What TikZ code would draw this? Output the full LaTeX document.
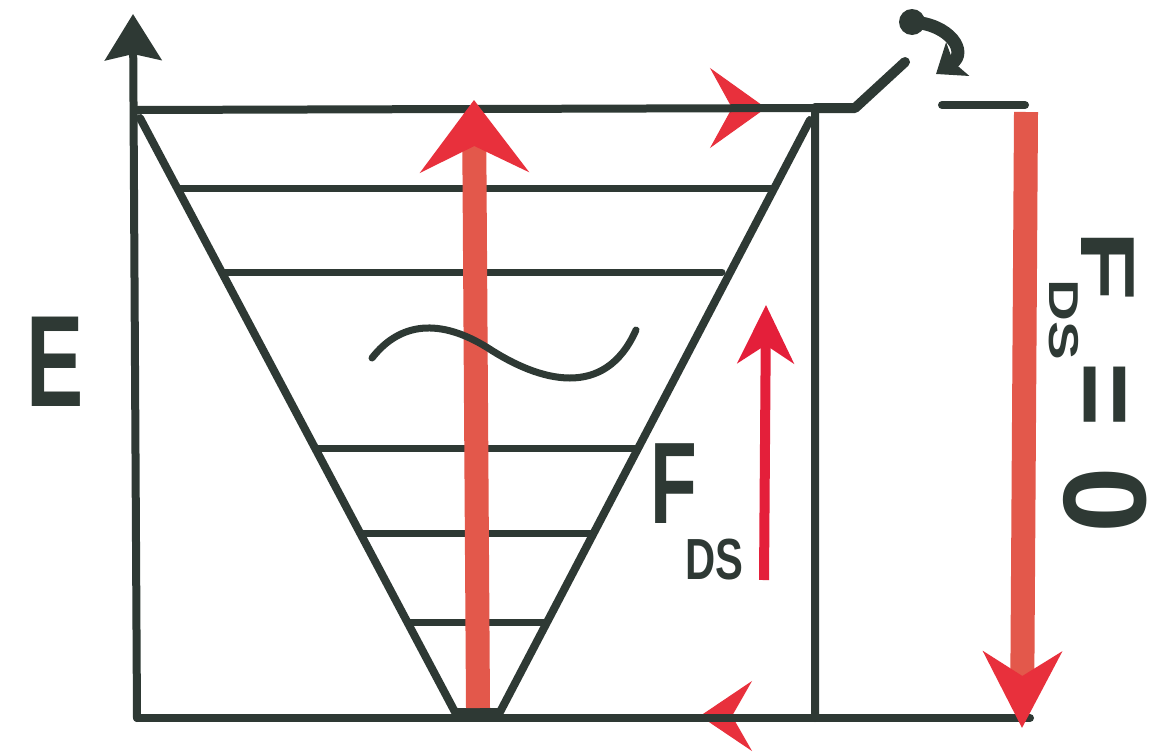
\documentclass[tikz,border=0pt]{standalone}
\usepackage{fontspec}
\setmainfont{Liberation Sans}
\usetikzlibrary{arrows.meta,calc}
\definecolor{ink}{HTML}{2E3934}
\definecolor{redshaft}{HTML}{E3584B}
\definecolor{redhead}{HTML}{E8303C}
\definecolor{redthin}{HTML}{E41F3A}
\tikzset{
  blk/.style={draw=ink, line width=8pt, line cap=round, line join=round},
  lvl/.style={draw=ink, line width=7pt, line cap=round},
  lbl/.style={text=ink, inner sep=0pt, font=\fontsize{#1}{#1}\selectfont\bfseries},
}
\begin{document}
\begin{tikzpicture}[x=1pt,y=-1pt]
\useasboundingbox (0,0) rectangle (1174,755);
\fill[white] (0,0) rectangle (1174,755);
% coordinates
\coordinate (O) at (137,718);
\coordinate (Atop) at (133,14);
\coordinate (TL) at (137,110);
\coordinate (TR) at (815,108);
\coordinate (BR) at (815,718);
\coordinate (BRR) at (1030,718);
\coordinate (VL) at (140,118);
\coordinate (VBL) at (455,712);
\coordinate (VBR) at (500,712);
\coordinate (VR) at (810,120);
\coordinate (S1) at (855,108);
\coordinate (S2) at (905,62);
\coordinate (Rl) at (942,105);
\coordinate (Rr) at (1025,105);

% red heads lying on black lines (drawn first, lines over them)
\coordinate (th0) at (712,108); \coordinate (th1) at (766,108);
\draw[redhead, line width=1pt, -{Stealth[length=56pt,width=80pt,inset=22pt]}] (th0) -- (th1);
\coordinate (bh0) at (752,716); \coordinate (bh1) at (700,716);
\draw[redhead, line width=1pt, -{Stealth[length=52pt,width=70pt,inset=20pt]}] (bh0) -- (bh1);

% axis
\draw[blk, -{Stealth[length=46pt,width=56pt,inset=6pt]}] (O) -- (Atop);
% box
\draw[blk] (TL) -- (TR) -- (BR);
\draw[blk] (O) -- (BRR);
% switch
\draw[blk, line width=10pt] (TR) -- (S1) -- (S2);
\coordinate (C0) at (912,22); \coordinate (C1) at (936,74);
\draw[blk, line width=13pt, -{Stealth[length=26pt,width=40pt,inset=5pt]}] (C0) .. controls (950,24) and (968,52) .. (C1);
\fill[ink] (C0) circle (13pt);
\draw[blk] (Rl) -- (Rr);

% V well
\draw[blk] (VL) -- (VBL) -- (VBR) -- (VR);
% levels
\coordinate (a1) at (178,188); \coordinate (b1) at (774,188);
\coordinate (a2) at (222,272); \coordinate (b2) at (722,272);
\coordinate (a3) at (315,448); \coordinate (b3) at (636,448);
\coordinate (a4) at (360,533); \coordinate (b4) at (592,533);
\coordinate (a5) at (408,622); \coordinate (b5) at (546,622);
\foreach \i in {1,...,5} \draw[lvl] (a\i) -- (b\i);

% big red vertical arrow
\coordinate (U0) at (478,708); \coordinate (U1) at (474,100);
\draw[redshaft, line width=24pt, -{Stealth[length=72pt,width=108pt,inset=26pt,color=redhead]}] (U0) -- (U1);
% wave
\draw[blk, line width=7pt] (372,358) .. controls (400,322) and (440,318) .. (488,348) .. controls (540,382) and (605,400) .. (636,330);

% thin red arrow
\coordinate (T0) at (764,580); \coordinate (T1) at (766,305);
\draw[redthin, line width=10pt, -{Stealth[length=58pt,width=56pt,inset=18pt]}] (T0) -- (T1);

% right red arrow
\coordinate (D0) at (1026,112); \coordinate (D1) at (1022,728);
\draw[redshaft, line width=24pt, -{Stealth[length=76pt,width=78pt,inset=24pt,color=redhead]}] (D0) -- (D1);

% labels
\node[lbl=130, xscale=0.66] (E) at (55,362) {E};
\node[lbl=116, xscale=0.66] (F1) at (674,484) {F};
\node[lbl=58, xscale=0.72] (DS1) at (714,560) {DS};
\node[lbl=116, xscale=0.66, rotate=-90] (F2) at (1108,266) {F};
\node[lbl=58, xscale=0.72, rotate=-90] (DS2) at (1064,320) {DS};
\node[lbl=110, rotate=-90] (EQ) at (1097,395) {=};
\node[lbl=118, rotate=-90] (Z) at (1105,500) {0};
\end{tikzpicture}
\end{document}
